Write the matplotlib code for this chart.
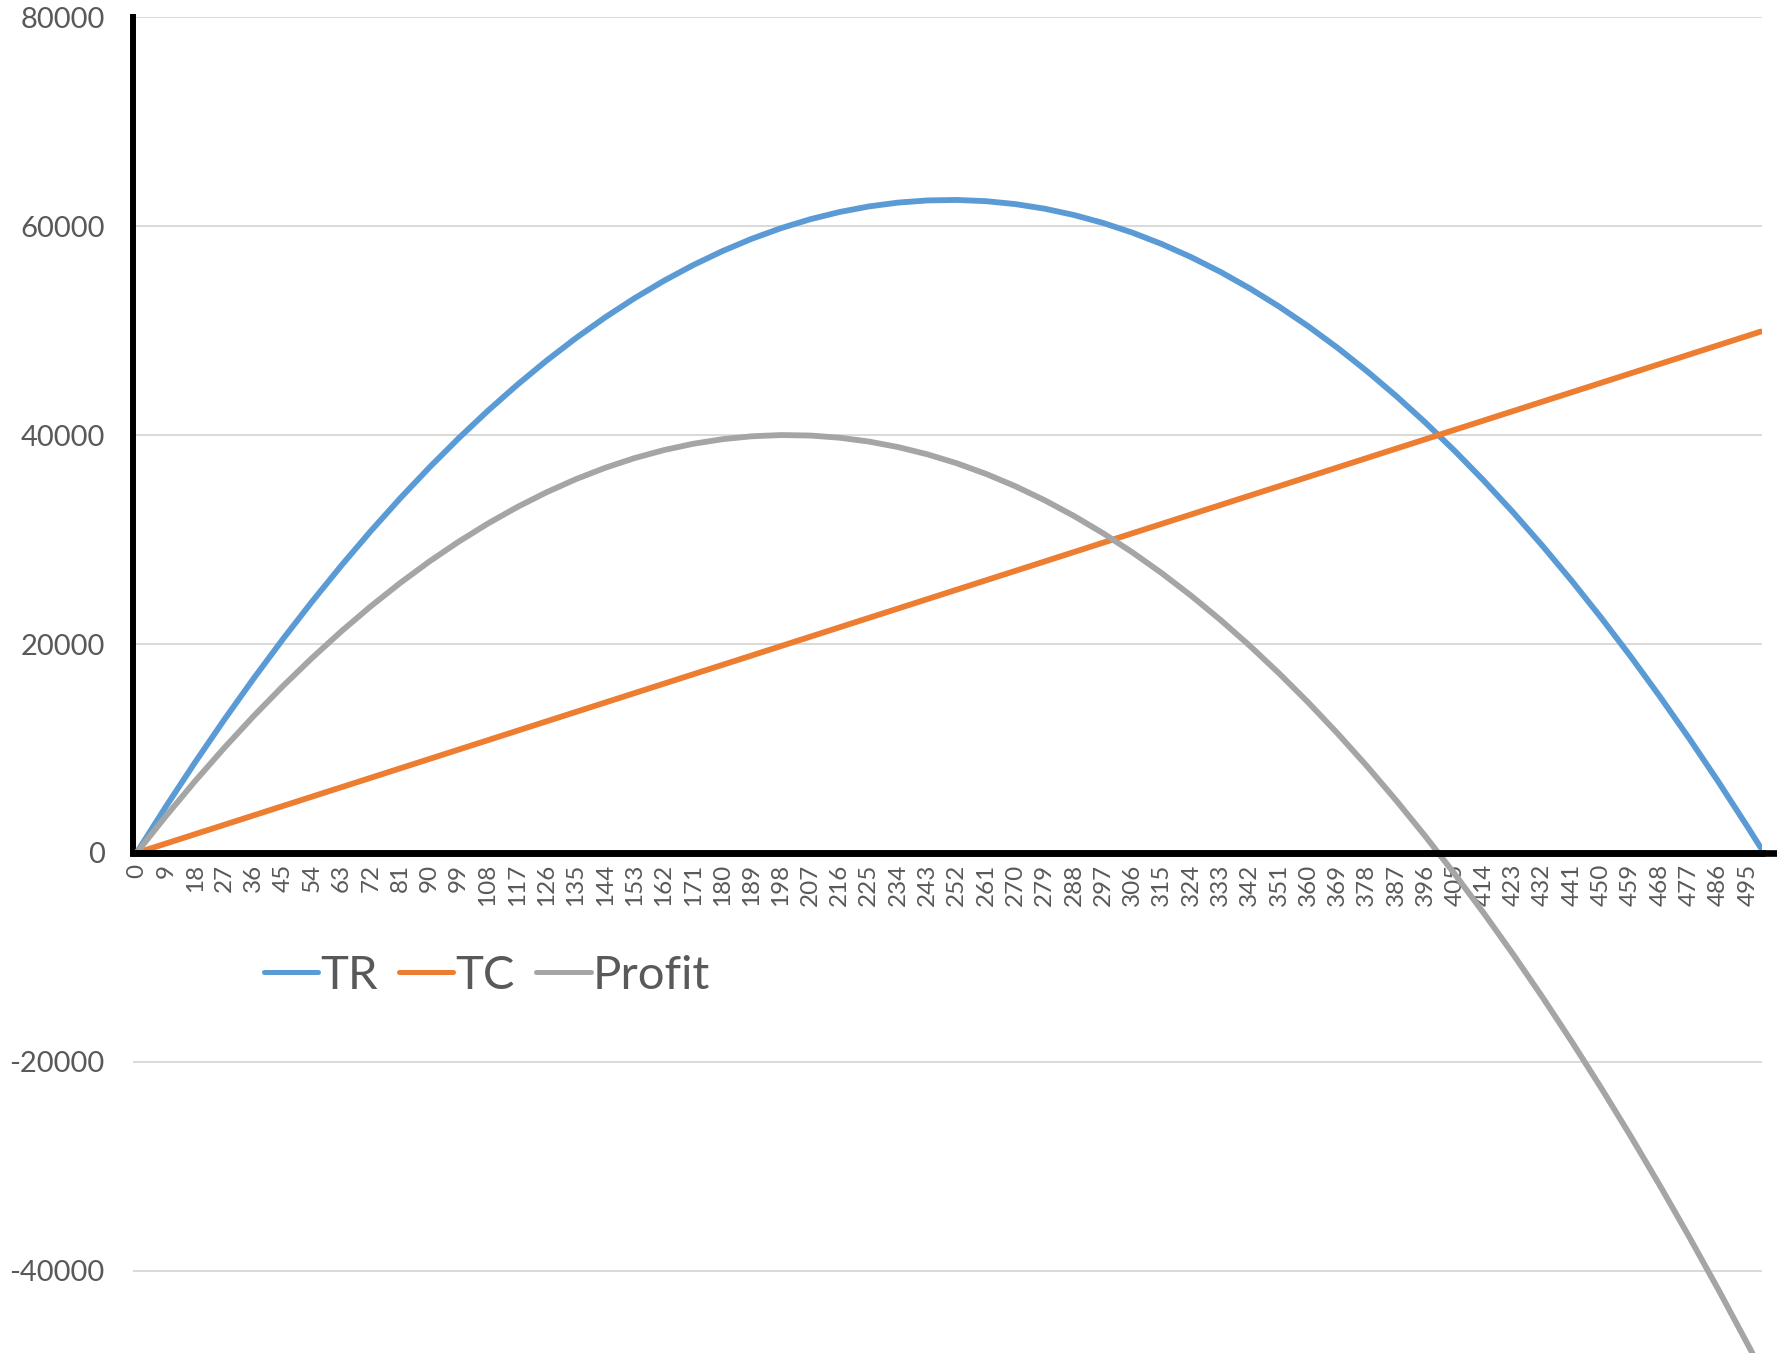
import matplotlib
matplotlib.use("Agg")
import matplotlib.pyplot as plt

# quantity (category labels every 9 units, last point at 499)
qty = [0, 9, 18, 27, 36, 45, 54, 63, 72, 81, 90, 99, 108, 117, 126, 135, 144,
       153, 162, 171, 180, 189, 198, 207, 216, 225, 234, 243, 252, 261, 270,
       279, 288, 297, 306, 315, 324, 333, 342, 351, 360, 369, 378, 387, 396,
       405, 414, 423, 432, 441, 450, 459, 468, 477, 486, 495, 499]

tr = [0, 4419, 8676, 12771, 16704, 20475, 24084, 27531, 30816, 33939, 36900,
      39699, 42336, 44811, 47124, 49275, 51264, 53091, 54756, 56259, 57600,
      58779, 59796, 60651, 61344, 61875, 62244, 62451, 62496, 62379, 62100,
      61659, 61056, 60291, 59364, 58275, 57024, 55611, 54036, 52299, 50400,
      48339, 46116, 43731, 41184, 38475, 35604, 32571, 29376, 26019, 22500,
      18819, 14976, 10971, 6804, 2475, 499]

tc = [0, 900, 1800, 2700, 3600, 4500, 5400, 6300, 7200, 8100, 9000, 9900,
      10800, 11700, 12600, 13500, 14400, 15300, 16200, 17100, 18000, 18900,
      19800, 20700, 21600, 22500, 23400, 24300, 25200, 26100, 27000, 27900,
      28800, 29700, 30600, 31500, 32400, 33300, 34200, 35100, 36000, 36900,
      37800, 38700, 39600, 40500, 41400, 42300, 43200, 44100, 45000, 45900,
      46800, 47700, 48600, 49500, 49900]

profit = [0, 3519, 6876, 10071, 13104, 15975, 18684, 21231, 23616, 25839,
          27900, 29799, 31536, 33111, 34524, 35775, 36864, 37791, 38556, 39159,
          39600, 39879, 39996, 39951, 39744, 39375, 38844, 38151, 37296, 36279,
          35100, 33759, 32256, 30591, 28764, 26775, 24624, 22311, 19836, 17199,
          14400, 11439, 8316, 5031, 1584, -2025, -5796, -9729, -13824, -18081,
          -22500, -27081, -31824, -36729, -41796, -47025, -49401]

xticks = qty[:-1]
yticks = [-40000, -20000, 0, 20000, 40000, 60000, 80000]

plt.rcParams['font.family'] = ['Lato', 'DejaVu Sans']
txt = '#595959'

fig = plt.figure(figsize=(17.77, 13.53), dpi=100)
ax = fig.add_axes([0.0746, 0.0, 0.917, 0.9874])

ax.plot(qty, tr, color='#5B9BD5', lw=4.2, solid_capstyle='round', label='TR', zorder=3)
ax.plot(qty, tc, color='#ED7D31', lw=4.2, solid_capstyle='round', label='TC', zorder=3)
ax.plot(qty, profit, color='#A5A5A5', lw=4.2, solid_capstyle='round', label='Profit', zorder=3)

ax.set_xlim(-1.2, 499.4)
ax.set_ylim(-47850, 80000)

# spines first: set_position resets the ticks
for s in ['top', 'right']:
    ax.spines[s].set_visible(False)
ax.spines['left'].set_linewidth(4.3)
ax.spines['left'].set_bounds(0, 80000)
ax.spines['bottom'].set_position(('data', 0))
ax.spines['bottom'].set_linewidth(4.8)
ax.spines['bottom'].set_zorder(4)
ax.axhline(0, xmin=0, xmax=1.02, color='black', lw=4.8, clip_on=False, zorder=4)

ax.set_yticks(yticks)
ax.set_yticklabels([str(v) for v in yticks])
ax.set_xticks(xticks)
ax.set_xticklabels([str(v) for v in xticks], rotation=90, va='top')

ax.grid(axis='y', color='#D9D9D9', lw=1.4)
ax.set_axisbelow(True)

ax.tick_params(axis='y', length=0, pad=20, labelsize=21, labelcolor=txt)
ax.tick_params(axis='x', length=0, pad=8, labelsize=17.5, labelcolor=txt,
               labelrotation=90)

leg = fig.legend(loc='center', bbox_to_anchor=(0.274, 0.279), ncol=3,
                 frameon=False, fontsize=34, handlelength=1.15,
                 handletextpad=0.05, columnspacing=0.45, labelcolor=txt)
for h in leg.legend_handles:
    h.set_linewidth(3.6)
    h.set_solid_capstyle('round')

plt.savefig('out.png', dpi=100)
